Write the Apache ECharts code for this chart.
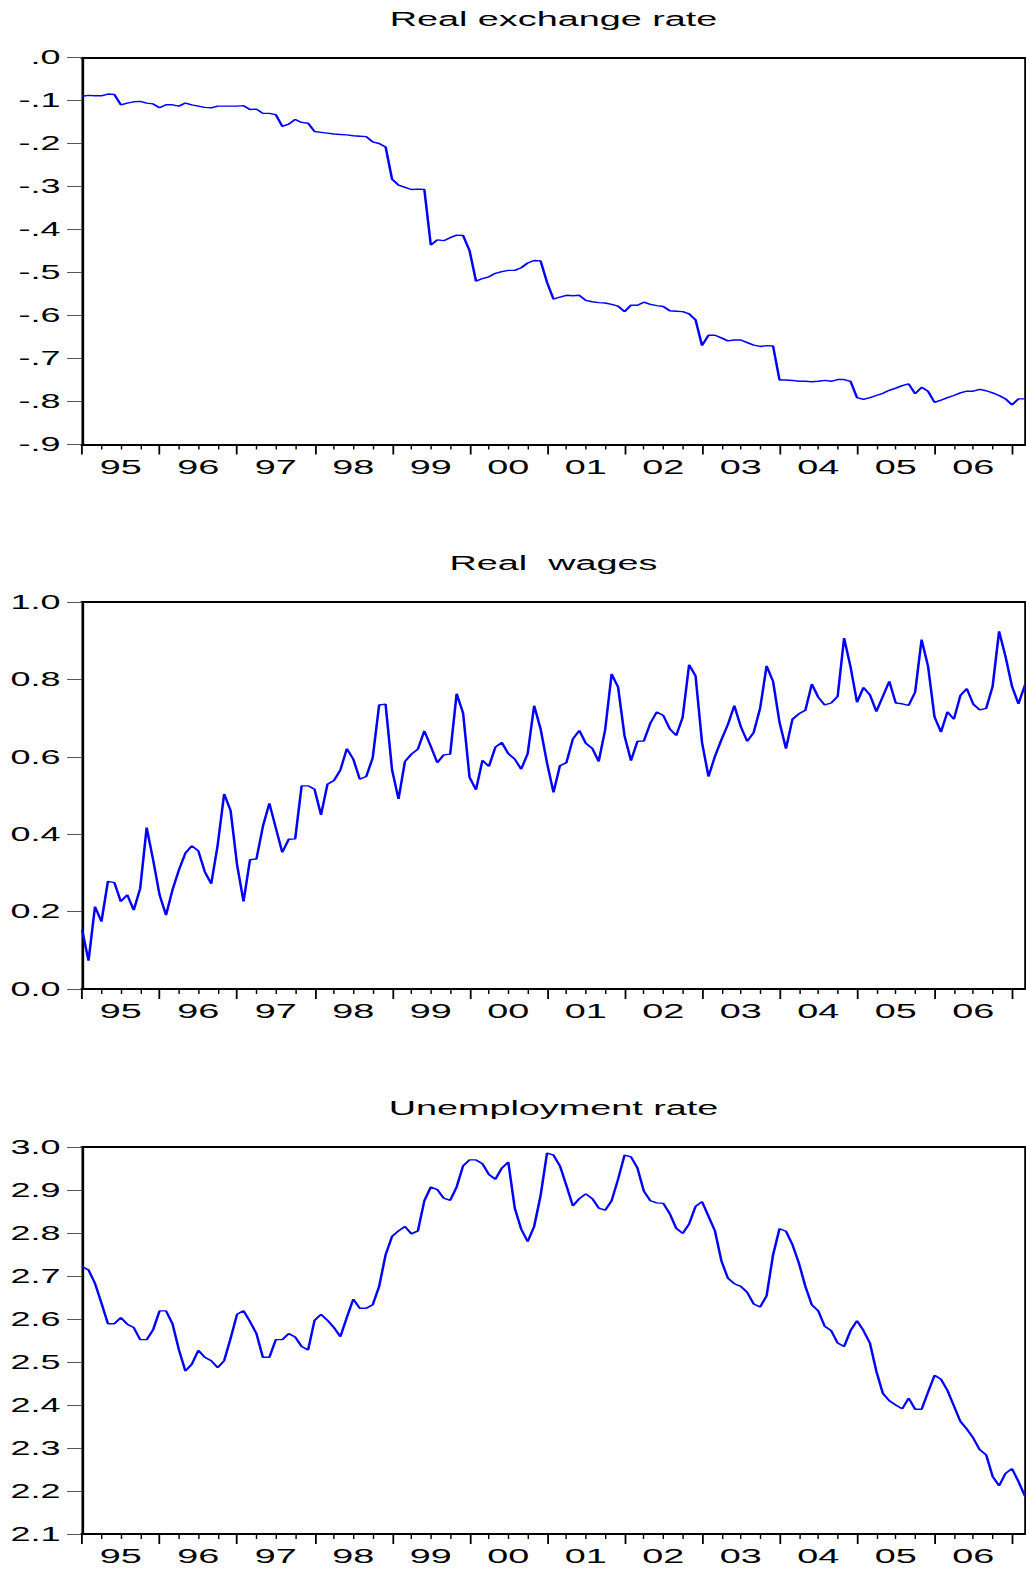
<!DOCTYPE html>
<html><head><meta charset="utf-8">
<script src="https://cdn.jsdelivr.net/npm/echarts@6/dist/echarts.min.js"></script>
<style>
html,body{margin:0;padding:0;background:#fff;overflow:hidden;}
#wrap{width:1026px;height:1570px;overflow:hidden;position:relative;}
#c{width:570px;height:1570px;transform:scaleX(1.8);transform-origin:0 0;}
</style></head><body><div id="wrap"><div id="c"></div></div>
<script>
// ---- data ----
const yearLabels = ['95','96','97','98','99','00','01','02','03','04','05','06'];
const months = [];
for (let y = 1995; y <= 2007; y++) {
  for (let m = 1; m <= 12; m++) {
    if (months.length < 147) months.push(y + '-' + (m < 10 ? '0' + m : m));
  }
}
const realExchangeRate = [
-0.090,-0.088,-0.089,-0.089,-0.085,-0.086,-0.110,-0.106,-0.103,-0.102,-0.106,-0.108,
-0.117,-0.110,-0.110,-0.113,-0.106,-0.110,-0.113,-0.116,-0.117,-0.113,-0.113,-0.113,
-0.113,-0.112,-0.121,-0.120,-0.130,-0.130,-0.133,-0.160,-0.155,-0.144,-0.151,-0.153,
-0.172,-0.174,-0.176,-0.178,-0.179,-0.180,-0.182,-0.183,-0.184,-0.196,-0.200,-0.208,
-0.283,-0.297,-0.302,-0.307,-0.306,-0.307,-0.436,-0.424,-0.426,-0.419,-0.413,-0.414,
-0.449,-0.520,-0.514,-0.510,-0.502,-0.498,-0.495,-0.495,-0.489,-0.478,-0.472,-0.473,
-0.523,-0.562,-0.557,-0.553,-0.554,-0.553,-0.565,-0.568,-0.570,-0.571,-0.574,-0.578,
-0.591,-0.576,-0.576,-0.569,-0.574,-0.577,-0.579,-0.589,-0.590,-0.591,-0.596,-0.610,
-0.670,-0.646,-0.646,-0.652,-0.659,-0.657,-0.657,-0.663,-0.669,-0.672,-0.670,-0.671,
-0.750,-0.750,-0.751,-0.753,-0.753,-0.754,-0.753,-0.751,-0.753,-0.749,-0.749,-0.753,
-0.791,-0.795,-0.791,-0.786,-0.781,-0.774,-0.769,-0.763,-0.759,-0.782,-0.767,-0.776,
-0.802,-0.797,-0.791,-0.786,-0.780,-0.776,-0.776,-0.772,-0.775,-0.780,-0.786,-0.794,
-0.808,-0.794,-0.794
];
const realWages = [
0.153,0.073,0.213,0.174,0.278,0.275,0.226,0.243,0.204,0.260,0.417,0.334,
0.243,0.191,0.256,0.308,0.351,0.370,0.357,0.303,0.272,0.372,0.504,0.461,
0.321,0.226,0.334,0.336,0.420,0.480,0.416,0.353,0.387,0.388,0.525,0.525,
0.516,0.450,0.529,0.539,0.566,0.621,0.594,0.542,0.549,0.597,0.734,0.736,
0.566,0.491,0.588,0.607,0.620,0.667,0.627,0.585,0.605,0.607,0.763,0.713,
0.547,0.515,0.591,0.575,0.625,0.637,0.608,0.594,0.568,0.608,0.732,0.672,
0.584,0.508,0.577,0.585,0.646,0.668,0.635,0.622,0.588,0.670,0.814,0.780,
0.654,0.590,0.640,0.641,0.687,0.716,0.707,0.672,0.655,0.702,0.838,0.809,
0.637,0.549,0.601,0.644,0.683,0.732,0.678,0.640,0.663,0.726,0.835,0.795,
0.689,0.621,0.697,0.711,0.720,0.788,0.754,0.734,0.739,0.756,0.907,0.832,
0.741,0.779,0.760,0.717,0.756,0.795,0.739,0.737,0.733,0.767,0.903,0.834,
0.703,0.664,0.716,0.697,0.758,0.776,0.736,0.721,0.725,0.782,0.924,0.859,
0.782,0.737,0.785
];
const unemploymentRate = [
2.722,2.714,2.683,2.637,2.589,2.589,2.603,2.588,2.580,2.552,2.552,2.575,
2.619,2.619,2.589,2.528,2.479,2.495,2.527,2.511,2.503,2.487,2.503,2.555,
2.611,2.619,2.594,2.566,2.511,2.511,2.552,2.552,2.566,2.558,2.536,2.528,
2.597,2.611,2.597,2.580,2.559,2.604,2.646,2.625,2.625,2.633,2.676,2.749,
2.792,2.805,2.815,2.798,2.805,2.875,2.907,2.901,2.881,2.876,2.907,2.956,
2.970,2.970,2.961,2.936,2.925,2.951,2.965,2.858,2.809,2.780,2.815,2.887,
2.986,2.981,2.956,2.910,2.863,2.880,2.891,2.880,2.858,2.853,2.875,2.925,
2.981,2.977,2.951,2.897,2.875,2.870,2.869,2.845,2.811,2.799,2.821,2.862,
2.873,2.839,2.805,2.735,2.695,2.682,2.676,2.662,2.635,2.628,2.654,2.749,
2.810,2.804,2.773,2.730,2.676,2.633,2.619,2.583,2.573,2.544,2.536,2.573,
2.596,2.573,2.544,2.478,2.427,2.410,2.400,2.391,2.416,2.390,2.390,2.430,
2.469,2.460,2.434,2.398,2.362,2.344,2.323,2.296,2.284,2.234,2.212,2.241,
2.252,2.222,2.188
];
const titles = ['Real exchange rate', 'Real  wages', 'Unemployment rate'];
const yTickLabels1 = ['-.9','-.8','-.7','-.6','-.5','-.4','-.3','-.2','-.1','.0'];
const yTickLabels2 = ['0.0','0.2','0.4','0.6','0.8','1.0'];
const yTickLabels3 = ['2.1','2.2','2.3','2.4','2.5','2.6','2.7','2.8','2.9','3.0'];

// ---- layout / style ----
const FONT = 'Liberation Sans, Arial, Helvetica, sans-serif';
const GL = 45.6, GR = 0.6, GH = 387;
const tops = [57.5, 602, 1147];
const titleTops = [7.5, 551.5, 1096.5];
const panels = [
  {data: realExchangeRate, min: -0.9, max: 0, step: 0.1, labels: yTickLabels1},
  {data: realWages, min: 0, max: 1, step: 0.2, labels: yTickLabels2},
  {data: unemploymentRate, min: 2.1, max: 3.0, step: 0.1, labels: yTickLabels3}
];

const grid = [], xAxis = [], yAxis = [], series = [], graphic = [];
panels.forEach(function (p, k) {
  grid.push({left: GL, right: GR, top: tops[k], height: GH, show: false});
  const mainX = xAxis.length;
  xAxis.push({
    gridIndex: k, type: 'category', data: months, boundaryGap: false, position: 'bottom',
    axisLine: {show: true, onZero: false, lineStyle: {color: '#000', width: 2}},
    axisTick: {show: true, interval: function (i) { return i % 12 === 0; }, length: 10,
      lineStyle: {color: '#000', width: 1}},
    axisLabel: {show: true, interval: function (i) { return i % 12 === 6; }, margin: 11,
      formatter: function (v, i) { return yearLabels[Math.floor(i / 12)]; },
      color: '#000', fontSize: 21, fontFamily: FONT},
    splitLine: {show: false}
  });
  xAxis.push({
    gridIndex: k, type: 'category', data: months, boundaryGap: false, position: 'bottom',
    axisLine: {show: false, onZero: false},
    axisTick: {show: true, interval: function (i) { return i % 3 === 0 && i % 12 !== 0; }, length: 5,
      lineStyle: {color: '#000', width: 0.8}},
    axisLabel: {show: false}, splitLine: {show: false}
  });
  xAxis.push({
    gridIndex: k, type: 'category', data: months, boundaryGap: false, position: 'top',
    axisLine: {show: true, onZero: false, lineStyle: {color: '#000', width: 2}},
    axisTick: {show: false}, axisLabel: {show: false}, splitLine: {show: false}
  });
  const mainY = yAxis.length;
  yAxis.push({
    gridIndex: k, type: 'value', min: p.min, max: p.max, interval: p.step, position: 'left',
    axisLine: {show: true, onZero: false, lineStyle: {color: '#000', width: 1.5}},
    axisTick: {show: true, length: 8.3, lineStyle: {color: '#555', width: 1}},
    axisLabel: {show: true, margin: 12, color: '#000', fontSize: 20, fontFamily: FONT,
      formatter: function (v) { return p.labels[Math.round((v - p.min) / p.step)]; }},
    splitLine: {show: false}
  });
  yAxis.push({
    gridIndex: k, type: 'value', min: p.min, max: p.max, interval: p.step, position: 'right',
    axisLine: {show: true, onZero: false, lineStyle: {color: '#000', width: 1}},
    axisTick: {show: false}, axisLabel: {show: false}, splitLine: {show: false}
  });
  series.push({
    type: 'line', xAxisIndex: mainX, yAxisIndex: mainY, data: p.data,
    showSymbol: false, symbol: 'none', lineStyle: {color: '#0000ff', width: 1.4},
    silent: true
  });
  graphic.push({
    type: 'text', x: GL + (570 - GL - GR) / 2, y: titleTops[k],
    style: {text: titles[k], fill: '#000', fontSize: 21, fontFamily: FONT,
      align: 'center', verticalAlign: 'top'}
  });
});

const chart = echarts.init(document.getElementById('c'), null, {renderer: 'svg'});
chart.setOption({
  animation: false,
  backgroundColor: '#fff',
  grid: grid, xAxis: xAxis, yAxis: yAxis, series: series, graphic: graphic
});
</script></body></html>
